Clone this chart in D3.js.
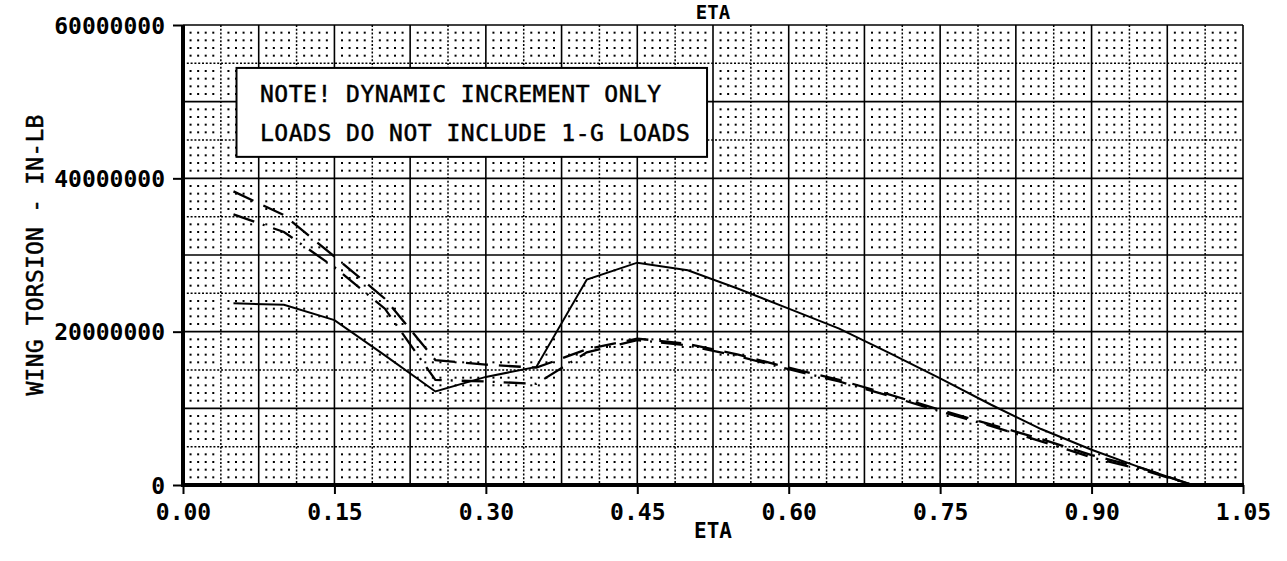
<!DOCTYPE html>
<html>
<head>
<meta charset="utf-8">
<script src="https://cdn.jsdelivr.net/npm/d3@7"></script>
<style>
  body { margin: 0; background: #fff; }
  text { font-family: 'DejaVu Sans Mono', monospace; fill: #000; }
</style>
</head>
<body>
<div id="chart"></div>
<script>
// ETA stations and wing torsion (in-lb, millions)
const eta = [0.05, 0.10, 0.15, 0.20, 0.25, 0.30, 0.35, 0.40, 0.45, 0.50,
             0.55, 0.60, 0.65, 0.70, 0.75, 0.80, 0.85, 0.90, 0.95, 1.00];
const solidSeries = [23.7, 23.5, 21.5, 16.9, 12.2, 14.1, 15.4, 26.8, 29.0, 28.0,
                     25.6, 23.0, 20.4, 17.2, 13.9, 10.5, 7.3, 4.6, 2.2, 0];
const dashSeries = [38.3, 35.2, 29.8, 24.3, 16.3, 15.7, 15.3, 17.7, 19.1, 18.4,
                    17.0, 15.3, 13.7, 11.8, 9.8, 7.9, 6.0, 3.9, 2.2, 0];
const dashDotSeries = [35.3, 33.0, 28.4, 23.0, 13.7, 13.5, 13.2, 17.3, 18.9, 18.2,
                       16.8, 15.1, 13.5, 11.6, 9.6, 7.7, 5.7, 3.6, 2.0, 0];
const xTicks = [0, 0.15, 0.30, 0.45, 0.60, 0.75, 0.90, 1.05];
const yTicks = [0, 20000000, 40000000, 60000000];
const noteLines = ['NOTE! DYNAMIC INCREMENT ONLY', 'LOADS DO NOT INCLUDE 1-G LOADS'];

const margin = { top: 25, right: 44, bottom: 76, left: 183 };
const width = 1287 - margin.left - margin.right;
const height = 561 - margin.top - margin.bottom;

const svg = d3
  .select('#chart')
  .append('svg')
  .attr('width', 1287)
  .attr('height', 561)
  .append('g')
  .attr('transform', `translate(${margin.left},${margin.top})`);

const x = d3.scaleLinear().domain([0, 1.05]).range([0, width]);
const y = d3.scaleLinear().domain([0, 60000000]).range([height, 0]);

// grid: dots every 0.0075 x 1M, dotted lines every 0.0375 x 5M, solid every 0.075 x 10M
const cols = d3.range(0, 141);
const rows = d3.range(0, 61);
const grid = svg.append('g');

const dots = [];
cols.forEach((i) => {
  if (i % 5 === 0) return;
  rows.forEach((j) => {
    if (j % 5 === 0) return;
    dots.push([i * 0.0075, j * 1000000]);
  });
});
grid
  .selectAll('.dot')
  .data(dots)
  .enter()
  .append('rect')
  .attr('x', (d) => x(d[0]) - 1)
  .attr('y', (d) => y(d[1]) - 1)
  .attr('width', 2)
  .attr('height', 2)
  .style('fill', '#000');

grid
  .selectAll('.vline')
  .data(cols.filter((i) => i % 5 === 0))
  .enter()
  .append('line')
  .attr('x1', (i) => x(i * 0.0075))
  .attr('x2', (i) => x(i * 0.0075))
  .attr('y1', 0)
  .attr('y2', height)
  .style('stroke', '#000')
  .style('stroke-width', (i) => (i % 10 === 0 ? 1.6 : 1.5))
  .style('stroke-dasharray', (i) => (i % 10 === 0 ? null : '2,1.8'));

grid
  .selectAll('.hline')
  .data(rows.filter((j) => j % 5 === 0))
  .enter()
  .append('line')
  .attr('y1', (j) => y(j * 1000000))
  .attr('y2', (j) => y(j * 1000000))
  .attr('x1', 0)
  .attr('x2', width)
  .style('stroke', '#000')
  .style('stroke-width', (j) => (j % 10 === 0 ? 1.6 : 1.5))
  .style('stroke-dasharray', (j) => (j % 10 === 0 ? null : '2,1.8'));

// note box
const note = svg.append('g');
note
  .append('rect')
  .attr('x', x(0.053))
  .attr('y', y(54.4e6))
  .attr('width', x(0.5191) - x(0.053))
  .attr('height', y(42.8e6) - y(54.4e6))
  .style('fill', '#fff')
  .style('stroke', '#000')
  .style('stroke-width', 2);
note
  .selectAll('text')
  .data(noteLines)
  .enter()
  .append('text')
  .attr('x', 77)
  .attr('y', (d, i) => 77 + i * 38.5)
  .style('font-size', '23px')
  .style('letter-spacing', '0.5px')
  .style('stroke', '#000')
  .style('stroke-width', 0.5)
  .text((d) => d);

// series
const line = d3
  .line()
  .x((d, i) => x(eta[i]))
  .y((d) => y(d * 1000000));

const series = [
  { values: solidSeries, dash: null },
  { values: dashSeries, dash: '22,11' },
  { values: dashDotSeries, dash: '22,9,2,9' },
];
svg
  .selectAll('.series')
  .data(series)
  .enter()
  .append('path')
  .attr('d', (d) => line(d.values))
  .style('fill', 'none')
  .style('stroke', '#000')
  .style('stroke-width', (d) => (d.dash ? 2.3 : 2))
  .style('stroke-dasharray', (d) => d.dash);

// axes
const xAxis = svg
  .append('g')
  .attr('transform', `translate(0,${height})`)
  .call(d3.axisBottom(x).tickValues(xTicks).tickFormat(d3.format('.2f')).tickSize(9).tickPadding(10));
const yAxis = svg
  .append('g')
  .call(d3.axisLeft(y).tickValues(yTicks).tickFormat(d3.format('d')).tickSize(10).tickPadding(8));

[xAxis, yAxis].forEach((a) => {
  a.select('.domain').remove();
  a.selectAll('.tick line').style('stroke', '#000').style('stroke-width', 2);
  a.selectAll('.tick text')
    .style('font-family', "'DejaVu Sans Mono', monospace")
    .style('font-size', '23px')
    .style('font-weight', 'bold')
    .style('fill', '#000');
});
yAxis.selectAll('.tick text').attr('dy', '0.36em');

svg
  .append('line')
  .attr('x1', -2)
  .attr('x2', width + 1)
  .attr('y1', height)
  .attr('y2', height)
  .style('stroke', '#000')
  .style('stroke-width', 4);
svg
  .append('line')
  .attr('x1', 0)
  .attr('x2', 0)
  .attr('y1', 0)
  .attr('y2', height + 2)
  .style('stroke', '#000')
  .style('stroke-width', 4);

// titles
svg
  .append('text')
  .attr('x', width / 2)
  .attr('y', height + 53)
  .attr('text-anchor', 'middle')
  .style('font-size', '21px')
  .style('font-weight', 'bold')
  .text('ETA');
svg
  .append('text')
  .attr('x', width / 2)
  .attr('y', -6)
  .attr('text-anchor', 'middle')
  .style('font-size', '19px')
  .style('font-weight', 'bold')
  .text('ETA');
svg
  .append('text')
  .attr('transform', `translate(${-140},${height / 2}) rotate(-90)`)
  .attr('text-anchor', 'middle')
  .style('font-size', '23px')
  .style('letter-spacing', '0.2px')
  .style('stroke', '#000')
  .style('stroke-width', 0.5)
  .text('WING TORSION - IN-LB');
</script>
</body>
</html>
